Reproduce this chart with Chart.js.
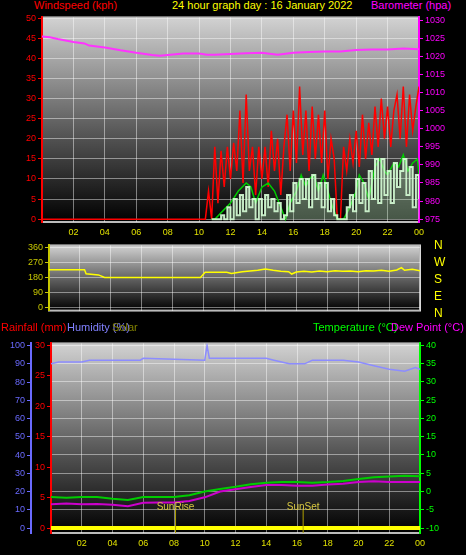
<!DOCTYPE html>
<html>
<head>
<meta charset="utf-8">
<script src="https://cdn.jsdelivr.net/npm/chart.js@4.4.0/dist/chart.umd.min.js"></script>
<style>
  body { margin: 0; background: #000; width: 466px; height: 555px; overflow: hidden; position: relative; font-family: "Liberation Sans", Arial, sans-serif; }
  .box { position: absolute; left: 0; width: 466px; }
  .lbl { position: absolute; font-size: 11px; white-space: nowrap; line-height: 12px; }
  .dir { position: absolute; left: 434px; font-size: 12px; color: #ffff00; }
</style>
</head>
<body>
<div class="lbl" style="left:34px;top:-1px;color:#ff0000">Windspeed (kph)</div>
<div class="lbl" style="left:172px;top:-1px;color:#ffff00">24 hour graph day : 16 January 2022</div>
<div class="lbl" style="left:371px;top:-1px;color:#ff00ff">Barometer (hpa)</div>
<div class="box" style="top:10px;height:230px"><canvas id="wind"></canvas></div>
<div class="box" style="top:238px;height:80px"><canvas id="dir"></canvas></div>
<div class="dir" style="top:238px">N</div>
<div class="dir" style="top:255px">W</div>
<div class="dir" style="top:272px">S</div>
<div class="dir" style="top:289px">E</div>
<div class="dir" style="top:306px">N</div>
<div class="lbl" style="left:1px;top:321px;color:#ff0000">Rainfall (mm)</div>
<div class="lbl" style="left:67px;top:321px;color:#8080ff">Humidity (%)</div>
<div class="lbl" style="left:112px;top:321px;color:#808000">Solar</div>
<div class="lbl" style="left:313px;top:321px;color:#00ff00">Temperature (°C)</div>
<div class="lbl" style="left:391px;top:321px;color:#ff00ff">Dew Point (°C)</div>
<div class="box" style="top:336px;height:219px"><canvas id="temp"></canvas></div>
<script>
// ---- data (hours since midnight) ----
const hourTicks = [2, 4, 6, 8, 10, 12, 14, 16, 18, 20, 22, 24];

const windT = [0, 10.4, 10.6, 10.8, 11.0, 11.2, 11.4, 11.6, 11.8, 12.0, 12.2, 12.4, 12.6, 12.8, 13.0, 13.2, 13.4, 13.6, 13.8,
  14.0, 14.2, 14.4, 14.6, 14.8, 15.0, 15.2, 15.4, 15.6, 15.8, 16.0, 16.2, 16.4, 16.6, 16.8, 17.0, 17.2, 17.4, 17.6, 17.8,
  18.0, 18.2, 18.4, 18.6, 18.8, 19.0, 19.2, 19.4, 19.6, 19.8, 20.0, 20.2, 20.4, 20.6, 20.8, 21.0, 21.2, 21.4, 21.6, 21.8,
  22.0, 22.2, 22.4, 22.6, 22.8, 23.0, 23.2, 23.4, 23.6, 23.8, 24.0];
const gust = [0, 0, 7, 0, 18, 4, 17, 8, 18, 10, 19, 12, 27, 9, 31, 12, 18, 6, 18,
  10, 18, 8, 22, 12, 20, 6, 18, 26, 12, 27, 14, 33, 16, 27, 12, 28, 15, 26, 14,
  27, 10, 20, 15, 0, 0, 18, 12, 20, 14, 22, 13, 26, 15, 24, 16, 28, 18, 30, 20,
  28, 18, 27, 31, 20, 33, 18, 31, 22, 28, 33];
const windAvg = [null, null, null, 0, 0, 0, 1, 0, 3, 0, 5, 1, 6, 2, 8, 3, 5, 0, 5,
  1, 6, 3, 5, 2, 4, 0, 1, 6, 2, 9, 4, 10, 5, 10, 3, 11, 5, 9, 3,
  9, 2, 5, 1, 0, 0, 0, 3, 6, 2, 10, 4, 9, 2, 12, 5, 15, 4, 15, 6,
  12, 4, 14, 8, 12, 15, 6, 13, 3, 11, 5];

const smoothT = [10.8, 11, 11.5, 12, 12.5, 13, 13.3, 13.6, 14, 14.4, 14.8, 15.2, 15.5, 15.8, 16.2, 16.5, 16.8, 17, 17.3,
  17.6, 17.9, 18.2, 18.5, 18.8, 19.2, 19.6, 20, 20.2, 20.5, 20.8, 21.2, 21.5, 21.8, 22, 22.4, 22.7, 23, 23.3, 23.6, 23.9, 24];
const windSmooth = [0, 0, 2, 4, 7, 9, 8, 4, 8, 9, 7, 3, 0, 4, 7, 11, 8, 10, 11,
  7, 11, 7, 3, 0, 0, 3, 7, 11, 9, 5, 13, 15, 12, 11, 14, 13, 16, 12, 14, 15, 11];

const baroT = [0, 0.5, 1, 2, 2.7, 3, 4, 5, 6, 7, 7.5, 8, 9, 10, 10.5, 11, 12, 13, 14, 15, 16, 17, 18, 19, 20, 21, 22, 23, 24];
const baro = [1025.5, 1025.3, 1024.8, 1024, 1023.6, 1023, 1022.5, 1021.7, 1021, 1020.4, 1020.2, 1020.4, 1020.8, 1020.8, 1020.5,
  1020.5, 1020.7, 1020.9, 1021, 1020.5, 1021, 1021.2, 1021.4, 1021.4, 1021.8, 1021.9, 1021.9, 1022.2, 1022];

const dirT = [0, 2.3, 2.4, 3.2, 3.6, 9.8, 10.1, 11.5, 11.8, 12.5, 13, 13.5, 14, 14.5, 15, 15.5, 15.7, 16, 16.5, 17, 17.5,
  18, 18.5, 19, 19.5, 20, 20.5, 21, 21.5, 22, 22.5, 22.8, 23, 23.5, 24];
const windDir = [225, 225, 202, 195, 180, 180, 210, 210, 203, 213, 218, 222, 230, 222, 216, 214, 200, 212, 216, 212, 218,
  214, 220, 216, 218, 214, 220, 218, 222, 216, 224, 238, 222, 228, 220];

const climT = [0, 0.5, 2, 2.5, 4, 5.8, 6, 10, 10.15, 10.3, 14, 14.5, 15.5, 16.5, 17, 19, 20, 21, 22, 23, 23.7, 24];
const humidity = [90, 91, 91, 92, 92, 92, 93, 92, 100, 93, 93, 92, 90, 90, 92, 92, 91, 89, 87, 86, 88, 87];

const tempT = [0, 1, 2, 3, 4, 5, 6, 7, 8, 9, 10, 11, 12, 13, 14, 15, 16, 17, 18, 19, 20, 21, 22, 23, 24];
const temperature = [-1.5, -1.7, -1.5, -1.5, -2, -2.3, -1.5, -1.5, -1.5, -1, 0, 0.7, 1.3, 2, 2.4, 2.6, 2.6, 2.4, 2.6, 2.9, 3.4, 3.9, 4.1, 4.3, 4.2];
const dewPoint = [-3.5, -3.3, -3.5, -3.4, -3.6, -4, -3.1, -3, -3, -2.6, -1.6, 0, 0.6, 1.2, 1.8, 1.8, 1.6, 1.6, 1.9, 2.1, 2.6, 2.8, 2.6, 2.6, 2.6];

const rainT = [0, 18, 18.01, 24];
const rain = [0, 0, 0.1, 0.1];
const solarT = [0, 24];
const solar = [0, 0];
const sunRise = 8.1, sunSet = 16.4;

const pts = (xs, ys) => xs.map((x, i) => ({ x: x, y: ys[i] }));

// ---- shared looks ----
const gridCol = "rgba(255,255,255,0.45)";
const bgPlugin = {
  id: "bg",
  beforeDraw(chart) {
    const a = chart.chartArea, c = chart.ctx;
    const g = c.createLinearGradient(0, a.top, 0, a.bottom);
    g.addColorStop(0, "#d2d2d2");
    g.addColorStop(0.55, "#5a5a5a");
    g.addColorStop(1, "#000000");
    c.save();
    c.fillStyle = g;
    c.fillRect(a.left, a.top, a.right - a.left, a.bottom - a.top);
    c.strokeStyle = "#bbbbbb";
    c.lineWidth = 2;
    c.strokeRect(a.left, a.top, a.right - a.left, a.bottom - a.top);
    c.restore();
  }
};
const fixW = w => function (s) { s.width = w; };
const fixH = h => function (s) { s.height = h; };
const tickFont = { family: "Liberation Sans", size: 9 };

function xAxis(showLabels, h) {
  return {
    type: "linear", min: 0, max: 24,
    afterBuildTicks: s => { s.ticks = hourTicks.map(v => ({ value: v })); },
    afterFit: fixH(h),
    grid: { color: gridCol, drawTicks: false },
    border: { display: false },
    ticks: {
      display: showLabels, color: "#e0e000", font: tickFont, padding: 5,
      callback: v => String(v % 24).padStart(2, "0")
    }
  };
}
function yAxis(pos, min, max, tickVals, color, w, showGrid) {
  return {
    position: pos, min: min, max: max,
    afterBuildTicks: s => { s.ticks = tickVals.map(v => ({ value: v })); },
    afterFit: fixW(w),
    grid: { display: true, color: gridCol, tickColor: color, tickLength: 4, drawOnChartArea: showGrid },
    border: { display: true, color: color, width: 2 },
    ticks: { color: color, font: tickFont, padding: 2, callback: v => String(v) }
  };
}
const range = (a, b, s) => { const r = []; for (let v = a; v <= b; v += s) r.push(v); return r; };

Chart.defaults.animation = false;
Chart.defaults.maintainAspectRatio = false;
Chart.defaults.plugins.legend.display = false;
Chart.defaults.plugins.tooltip.enabled = false;
Chart.defaults.elements.point.radius = 0;
Chart.defaults.elements.line.tension = 0;

// ---- windspeed + barometer ----
new Chart(document.getElementById("wind"), {
  type: "line",
  data: {
    datasets: [
      { data: pts(baroT, baro), yAxisID: "yb", borderColor: "#ff33ff", borderWidth: 2 },
      { data: pts(windT, windAvg), yAxisID: "yw", borderColor: "rgba(215,255,215,0.9)", backgroundColor: "rgba(200,245,200,0.35)", borderWidth: 2, fill: "origin", stepped: true },
      { data: pts(smoothT, windSmooth), yAxisID: "yw", borderColor: "#00cc00", borderWidth: 1.5 },
      { data: pts(windT, gust), yAxisID: "yw", borderColor: "#ff0000", borderWidth: 1.5, order: 5 }
    ]
  },
  options: {
    layout: { padding: { top: 2, right: 0, left: 0, bottom: 0 } },
    scales: {
      x: xAxis(true, 18),
      yw: yAxis("left", -0.7, 50.2, range(0, 50, 5), "#ff0000", 42, true),
      yb: yAxis("right", 974.2, 1030.8, range(975, 1030, 5), "#ff00ff", 47, false)
    }
  },
  plugins: [bgPlugin]
});

// ---- wind direction ----
new Chart(document.getElementById("dir"), {
  type: "line",
  data: { datasets: [{ data: pts(dirT, windDir), borderColor: "#ffff00", borderWidth: 1.5 }] },
  options: {
    layout: { padding: { top: 7, right: 46, left: 0, bottom: 0 } },
    scales: {
      x: xAxis(false, 5),
      y: yAxis("left", -17, 370, [0, 90, 180, 270, 360], "#c8c800", 49, true)
    }
  },
  plugins: [bgPlugin]
});

// ---- temperature / humidity / rain ----
const sunPlugin = {
  id: "sun",
  afterDatasetsDraw(chart) {
    const c = chart.ctx, x = chart.scales.x, y = chart.scales.yt;
    c.save();
    c.strokeStyle = "#b0a000";
    c.fillStyle = "#d8c840";
    c.font = "10px Liberation Sans";
    c.textAlign = "center";
    [[sunRise, "SunRise"], [sunSet, "SunSet"]].forEach(([t, txt]) => {
      const px = x.getPixelForValue(t);
      c.beginPath();
      c.moveTo(px, y.getPixelForValue(-4.5));
      c.lineTo(px, chart.chartArea.bottom);
      c.stroke();
      c.fillText(txt, px, y.getPixelForValue(-5));
    });
    c.restore();
  }
};
new Chart(document.getElementById("temp"), {
  type: "line",
  data: {
    datasets: [
      { data: pts(climT, humidity), yAxisID: "yh", borderColor: "#8c8cff", borderWidth: 1.5 },
      { data: pts(tempT, temperature), yAxisID: "yt", borderColor: "#00cc00", borderWidth: 2 },
      { data: pts(tempT, dewPoint), yAxisID: "yt", borderColor: "#cc00cc", borderWidth: 2 },
      { data: pts(solarT, solar), yAxisID: "yr", borderColor: "#ffff00", borderWidth: 4 },
      { data: pts(rainT, rain), yAxisID: "yr", borderColor: "#ff0000", borderWidth: 2 }
    ]
  },
  options: {
    layout: { padding: { top: 4, right: 0, left: 0, bottom: 0 } },
    scales: {
      x: xAxis(true, 22),
      yr: yAxis("left", -0.8, 30.3, range(0, 30, 5), "#ff0000", 20, false),
      yh: yAxis("left", -2.7, 101.2, range(0, 100, 10), "#6a6aff", 31, false),
      yt: yAxis("right", -11.35, 40.5, range(-10, 40, 5), "#00ff00", 46, true)
    }
  },
  plugins: [bgPlugin, sunPlugin]
});
</script>
</body>
</html>
